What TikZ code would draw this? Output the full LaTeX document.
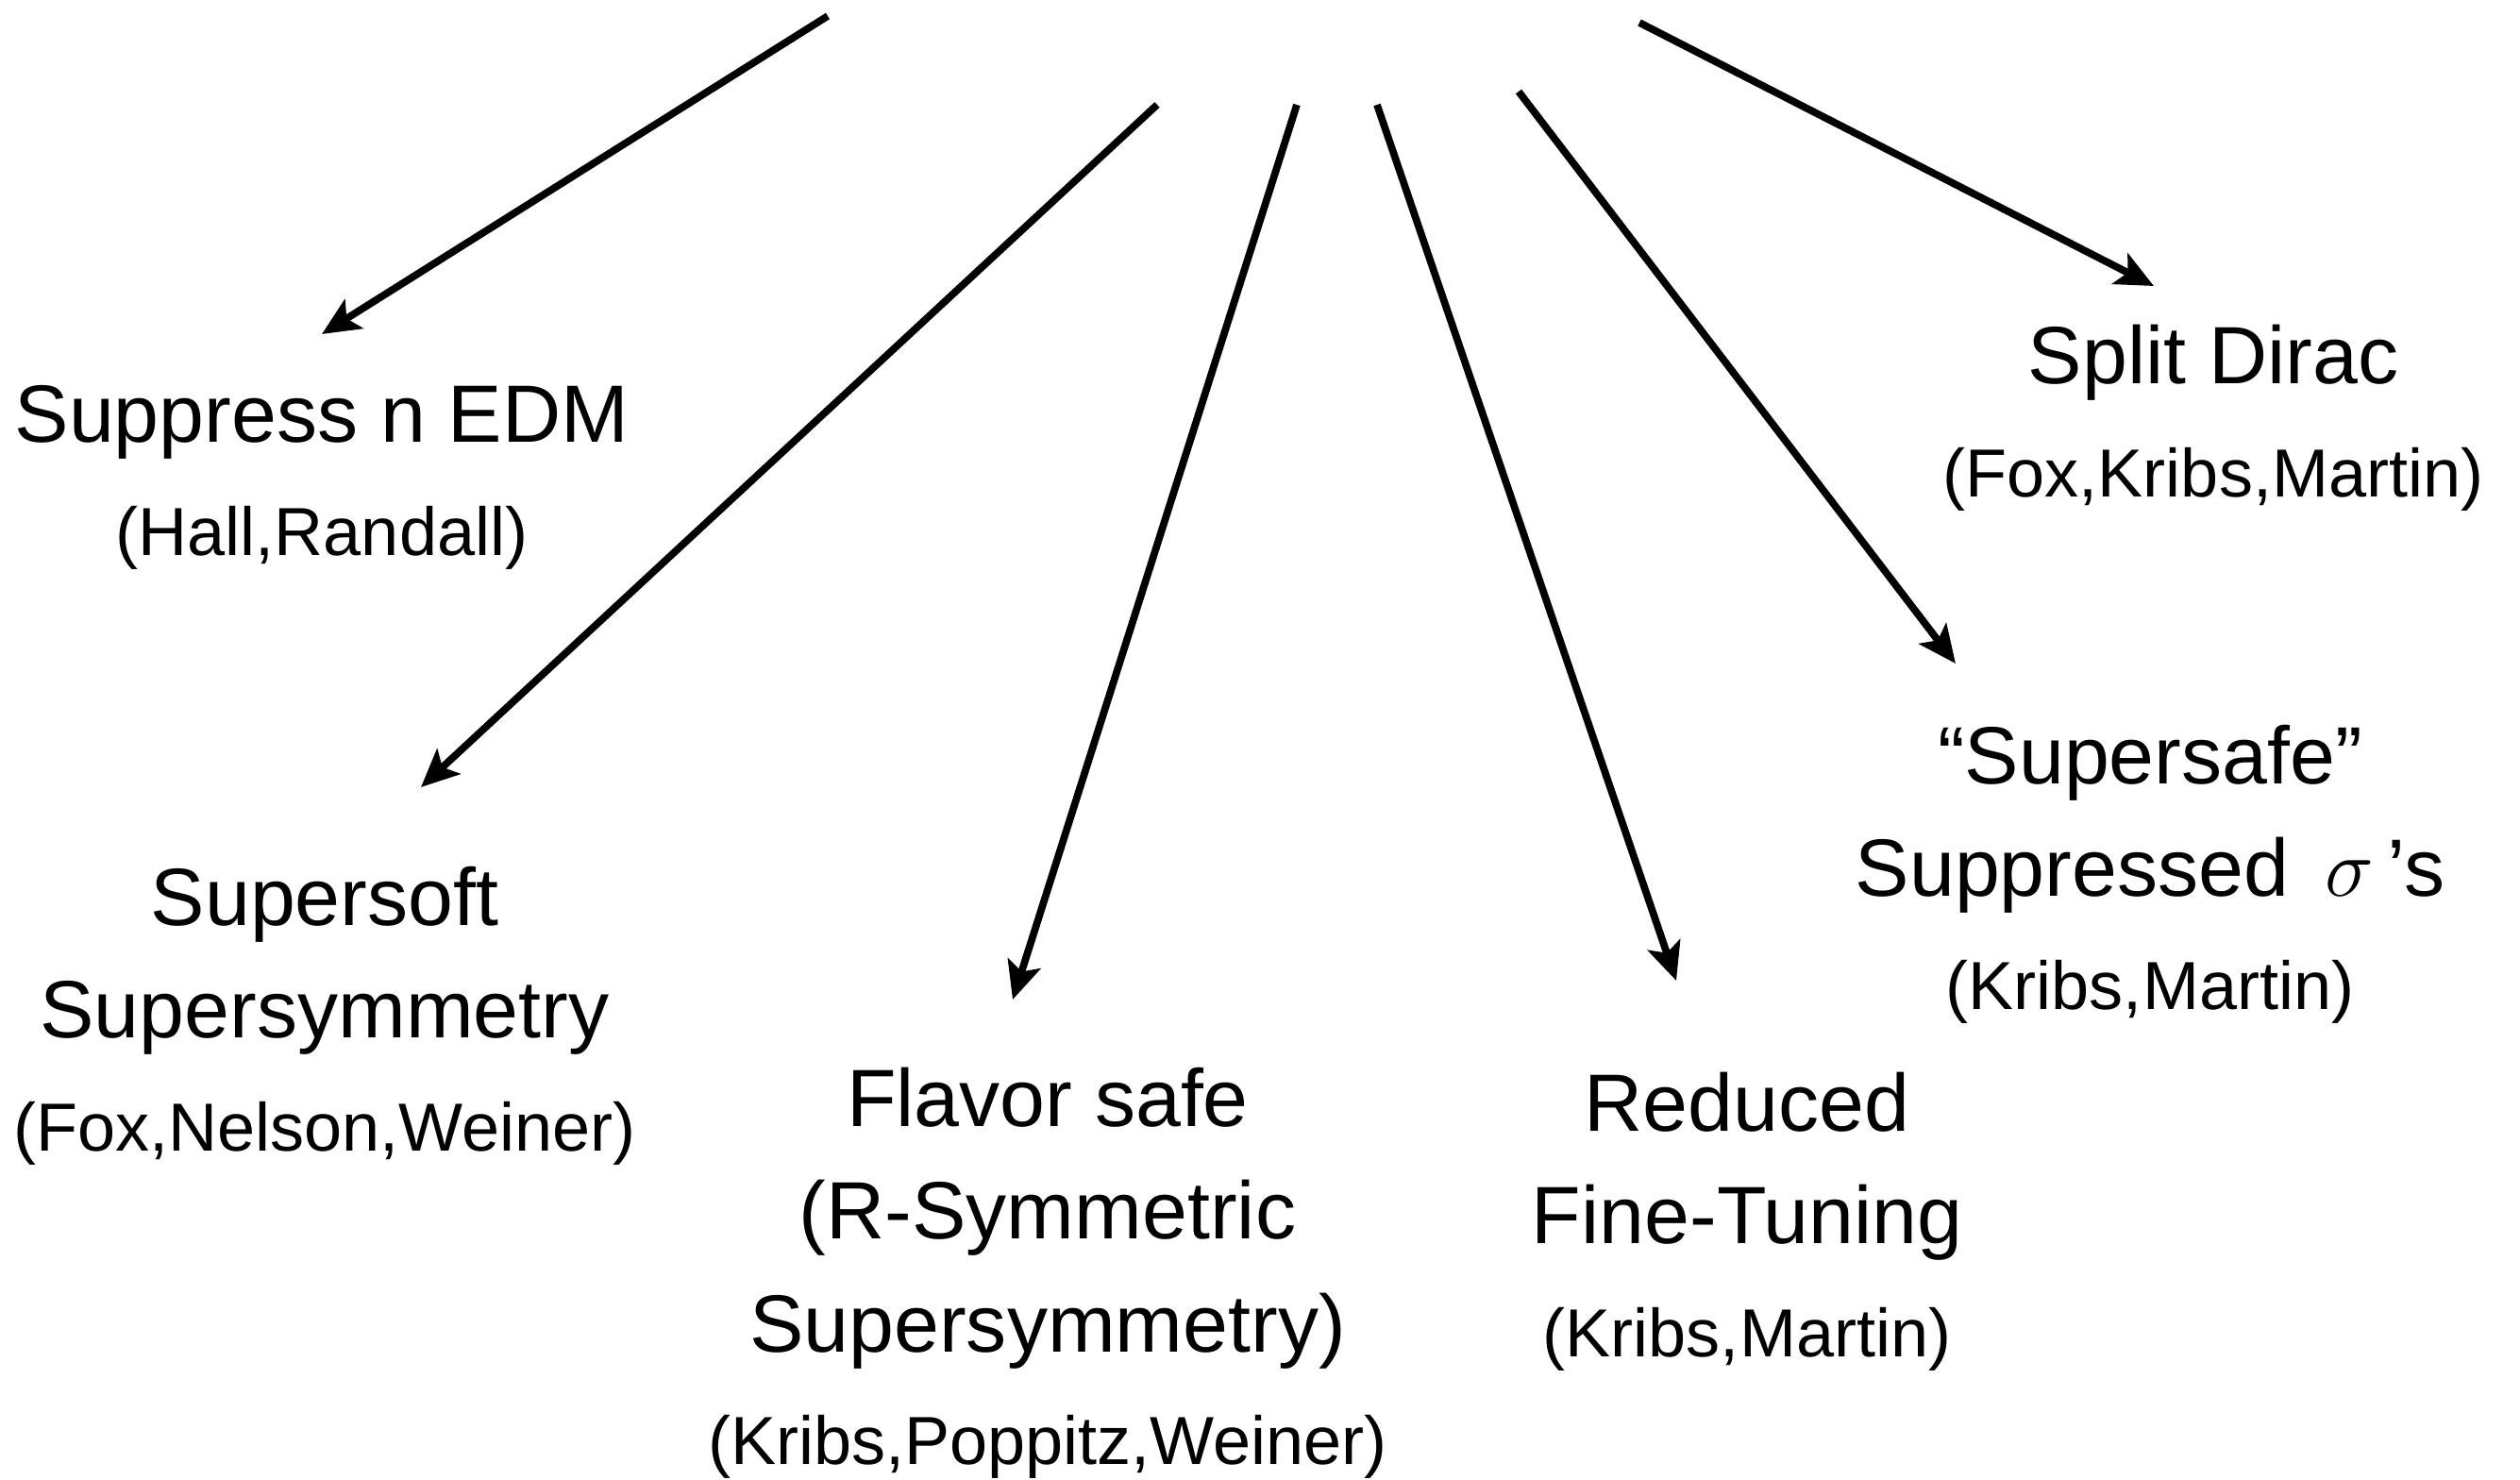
\documentclass[tikz,border=0pt]{standalone}
\usepackage{fontspec}
\setmainfont{Liberation Sans}
\usetikzlibrary{arrows.meta}
\newcommand{\authors}[1]{{\fontsize{20.5}{34}\selectfont #1}}

\begin{document}
\begin{tikzpicture}[topic/.style={align=center,font=\fontsize{24.5}{34}\selectfont,inner sep=0pt},
					link/.style={line width=2.2pt,-{Stealth[length=0.4cm,width=0.36cm,inset=0.09cm]}}]
	\useasboundingbox (0,0) rectangle (26.70,-15.68);
	\coordinate (edmfrom) at (8.77,-0.17);
	\coordinate (softfrom) at (12.26,-1.11);
	\coordinate (flavorfrom) at (13.74,-1.11);
	\coordinate (tuningfrom) at (14.59,-1.11);
	\coordinate (safefrom) at (16.09,-0.97);
	\coordinate (diracfrom) at (17.37,-0.24);
	\node[topic] (edm) at (3.41,-5.06) {Suppress n EDM\\\authors{(Hall,Randall)}};
	\node[topic] (supersoft) at (3.44,-10.76) {Supersoft\\Supersymmetry\\\authors{(Fox,Nelson,Weiner)}};
	\node[topic] (flavor) at (11.10,-13.49) {Flavor safe\\(R-Symmetric\\Supersymmetry)\\\authors{(Kribs,Poppitz,Weiner)}};
	\node[topic] (tuning) at (18.51,-12.94) {Reduced\\Fine-Tuning\\\authors{(Kribs,Martin)}};
	\node[topic] (supersafe) at (22.78,-9.26) {“Supersafe”\\Suppressed \,$\sigma$\,’s\\\authors{(Kribs,Martin)}};
	\node[topic] (dirac) at (23.45,-4.43) {Split Dirac\\\authors{(Fox,Kribs,Martin)}};
	\draw[link] (edmfrom) -- ([shift={(0,1.52)}]edm.center);
	\draw[link] (softfrom) -- ([shift={(1.02,2.42)}]supersoft.center);
	\draw[link] (flavorfrom) -- ([shift={(-0.37,2.90)}]flavor.center);
	\draw[link] (tuningfrom) -- ([shift={(-0.75,2.55)}]tuning.center);
	\draw[link] (safefrom) -- ([shift={(-2.06,2.23)}]supersafe.center);
	\draw[link] (diracfrom) -- ([shift={(-0.63,1.40)}]dirac.center);
\end{tikzpicture}
\end{document}
